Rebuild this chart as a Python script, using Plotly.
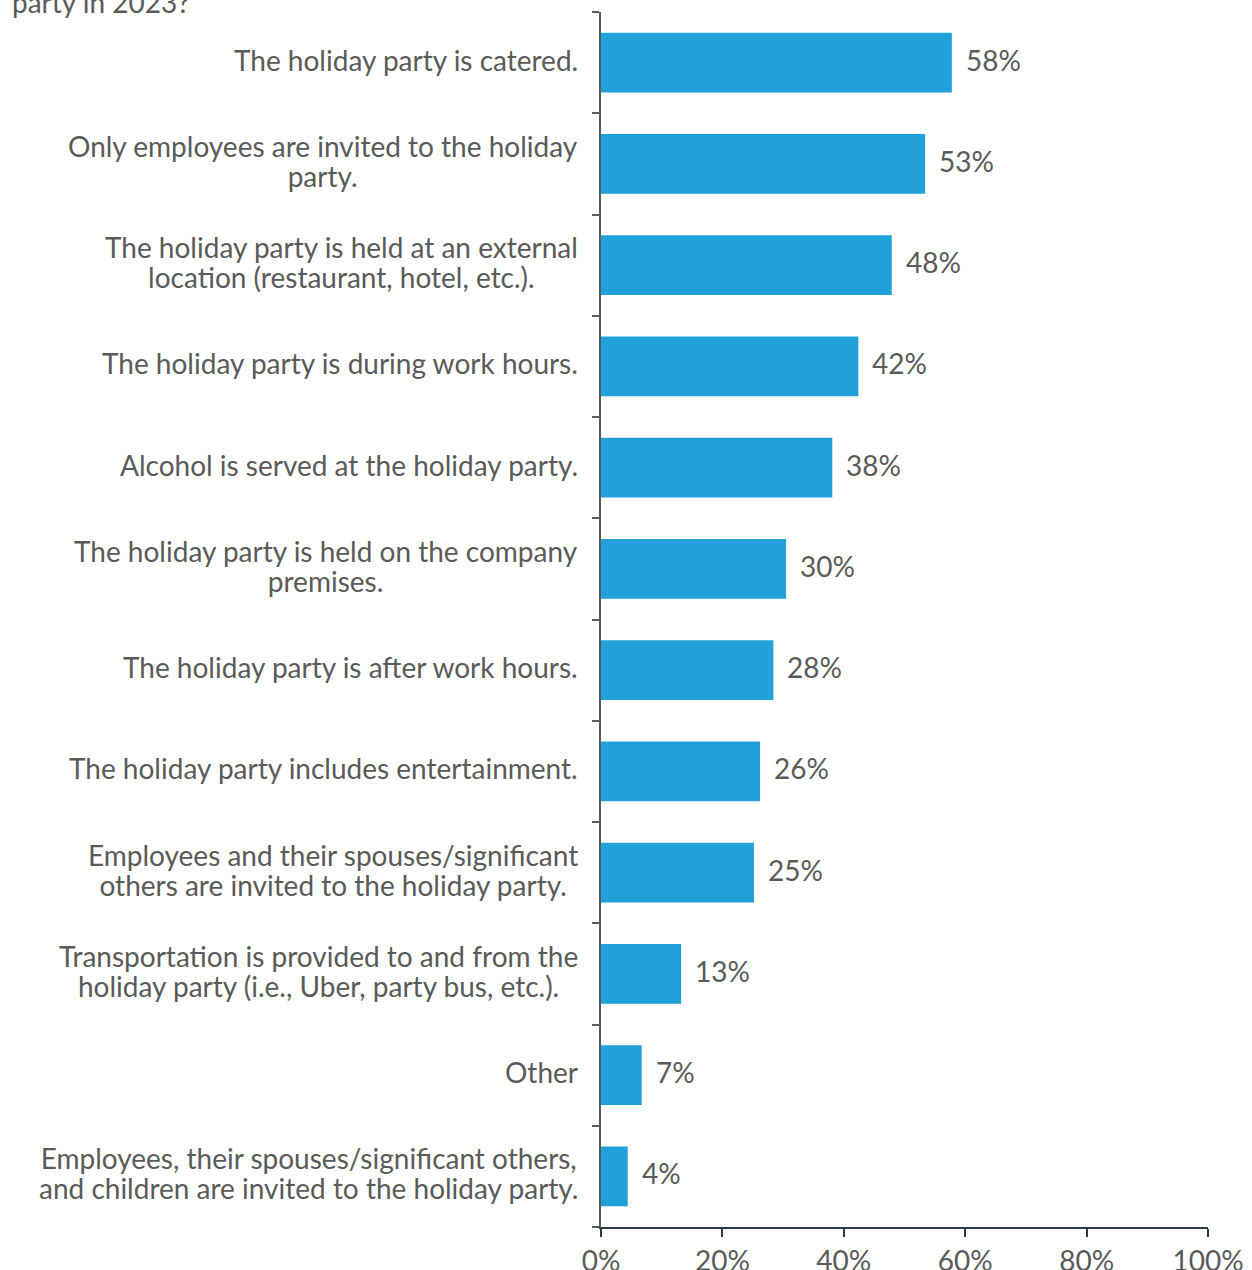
import plotly.graph_objects as go

categories = [
    "The holiday party is catered.",
    "Only employees are invited to the holiday<br>party.",
    "The holiday party is held at an external<br>location (restaurant, hotel, etc.).",
    "The holiday party is during work hours.",
    "Alcohol is served at the holiday party.",
    "The holiday party is held on the company<br>premises.",
    "The holiday party is after work hours.",
    "The holiday party includes entertainment.",
    "Employees and their spouses/significant<br>others are invited to the holiday party.",
    "Transportation is provided to and from the<br>holiday party (i.e., Uber, party bus, etc.).",
    "Other",
    "Employees, their spouses/significant others,<br>and children are invited to the holiday party.",
]
values = [57.8, 53.4, 47.9, 42.4, 38.1, 30.5, 28.4, 26.2, 25.2, 13.2, 6.7, 4.4]
value_labels = ["58%", "53%", "48%", "42%", "38%", "30%", "28%", "26%", "25%", "13%", "7%", "4%"]
x_ticks = [0, 20, 40, 60, 80, 100]
x_tick_labels = ["0%", "20%", "40%", "60%", "80%", "100%"]

FONT = "Lato"
TXT = "#5a5a5a"
BAR = "#20a1d9"
FS = 28

ids = list(range(len(categories)))


def big(text):
    return "<br>".join(f'<span style="font-size:{FS}px">{ln}</span>' for ln in text.split("<br>"))


fig = go.Figure(go.Bar(
    x=values, y=ids, orientation="h",
    marker=dict(color=BAR, line=dict(width=0)),
    width=0.59, hoverinfo="skip",
))

for i, (cat, v, lab) in enumerate(zip(categories, values, value_labels)):
    fig.add_annotation(x=0, xref="x", y=i, yref="y", text=big(cat), showarrow=False,
                       xanchor="right", yanchor="middle", align="center", xshift=-21, yshift=3,
                       font=dict(family=FONT, size=23, color=TXT))
    fig.add_annotation(x=v, xref="x", y=i, yref="y", text=lab, showarrow=False,
                       xanchor="left", yanchor="middle", xshift=12, yshift=3,
                       font=dict(family=FONT, size=FS, color=TXT))

fig.add_annotation(x=0, xref="paper", xanchor="left", xshift=-591, y=1, yref="paper",
                   yanchor="bottom", yshift=-9, text="party in 2023?", showarrow=False,
                   font=dict(family=FONT, size=FS, color=TXT))

fig.update_layout(
    width=1252, height=1270,
    margin=dict(l=601, r=44, t=12, b=43),
    plot_bgcolor="white", paper_bgcolor="white",
    showlegend=False,
    bargap=0.41,
    xaxis=dict(range=[0, 100], tickvals=x_ticks, ticktext=x_tick_labels, automargin=False,
               showgrid=False, zeroline=False, showline=True, linecolor="#2c3a4c", linewidth=2,
               ticks="outside", ticklen=8, tickwidth=2, tickcolor="#2c3a4c",
               tickfont=dict(family=FONT, size=FS, color=TXT)),
    yaxis=dict(range=[len(categories) - 0.5, -0.5], tickmode="array", automargin=False,
               tickvals=[i - 0.5 for i in range(len(categories) + 1)], ticktext=[""] * (len(categories) + 1),
               showgrid=False, zeroline=False, showline=True, linecolor="#5a5a5a", linewidth=2,
               ticks="outside", ticklen=7, tickwidth=2, tickcolor="#5a5a5a"),
)

fig.write_html("out.html")
